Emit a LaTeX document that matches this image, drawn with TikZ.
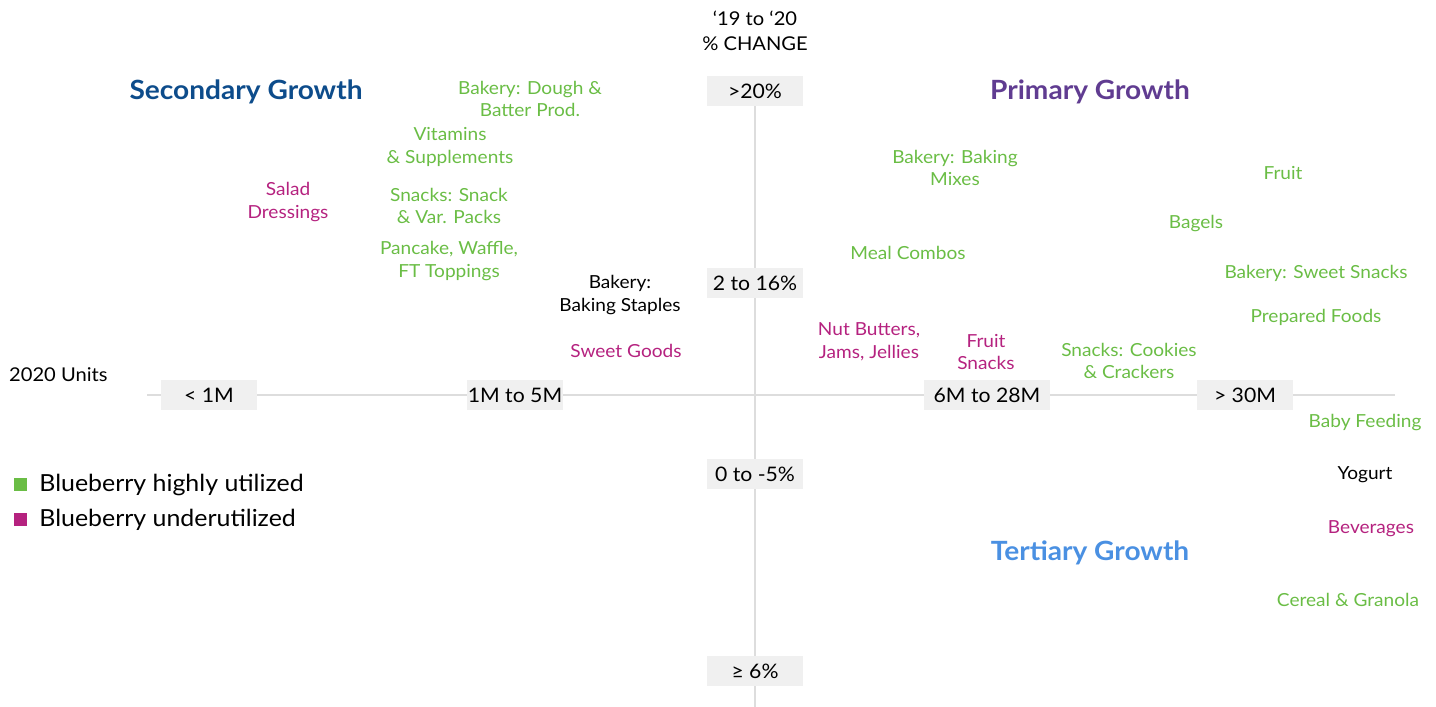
\documentclass[tikz,border=0pt]{standalone}
\usepackage{fontspec}
\setmainfont{Lato}[FakeStretch=1.06]
\usetikzlibrary{positioning}

\definecolor{bbgreen}{HTML}{6ABD45}
\definecolor{bbmagenta}{HTML}{B5227F}
\definecolor{darkblue}{HTML}{0D4C8B}
\definecolor{purple}{HTML}{603C91}
\definecolor{lightblue}{HTML}{4A90E2}
\definecolor{axisgray}{HTML}{DDDDDD}
\definecolor{boxgray}{HTML}{F0F0F0}

\tikzstyle{axis_box} = [rectangle, minimum width=96pt, minimum height=30pt, inner sep=0pt, fill=boxgray, text=black, font=\fontsize{20}{22}\selectfont]
\tikzstyle{axis_line} = [draw=axisgray, line width=2pt]
\tikzstyle{high_item} = [align=center, inner sep=0pt, text=bbgreen, font=\fontsize{18}{22.5}\selectfont]
\tikzstyle{low_item} = [align=center, inner sep=0pt, text=bbmagenta, font=\fontsize{18}{22.5}\selectfont]
\tikzstyle{plain_item} = [align=center, inner sep=0pt, text=black, font=\fontsize{18}{22.5}\selectfont]
\tikzstyle{quadrant} = [inner sep=0pt, font=\fontsize{26.5}{28}\selectfont\bfseries]
\tikzstyle{legend_key} = [rectangle, minimum size=13pt, inner sep=0pt]
\tikzstyle{legend_text} = [inner sep=0pt, anchor=west, font=\fontsize{23.5}{26}\selectfont]

\begin{document}
\begin{tikzpicture}[x=1pt, y=-1pt, node distance=35pt]
        \useasboundingbox (0,0) rectangle (1436,707);

        % axis titles
        \node (change_title) [align=center, inner sep=0pt, font=\fontsize{19}{25}\selectfont] at (755,31) {‘19 to ‘20\\\% CHANGE};
        \node (units_title) [inner sep=0pt, anchor=west, font=\fontsize{19}{22}\selectfont] at (9,375) {2020 Units};

        % vertical axis
        \node (pct_gt20) [axis_box] at (755,91) {>20\%};
        \node (pct_2to16) [axis_box] at (755,283) {2 to 16\%};
        \node (pct_0to5) [axis_box] at (755,474) {0 to -5\%};
        \node (pct_ge6) [axis_box] at (755,671) {≥ 6\%};
        \coordinate (pct_end) at (755,707);

        % horizontal axis
        \coordinate (units_start) at (147,395);
        \node (units_lt1) [axis_box] at (209,395) {< 1M};
        \node (units_1to5) [axis_box] at (515,395) {1M to 5M};
        \node (units_6to28) [axis_box, minimum width=126pt] at (987,395) {6M to 28M};
        \node (units_gt30) [axis_box] at (1245,395) {> 30M};
        \coordinate (units_end) at (1395,395);

        \draw [axis_line] (pct_gt20) -- (pct_2to16);
        \draw [axis_line] (pct_2to16) -- (pct_0to5);
        \draw [axis_line] (pct_0to5) -- (pct_ge6);
        \draw [axis_line] (pct_ge6) -- (pct_end);
        \draw [axis_line] (units_start) -- (units_lt1);
        \draw [axis_line] (units_lt1) -- (units_1to5);
        \draw [axis_line] (units_1to5) -- (units_6to28);
        \draw [axis_line] (units_6to28) -- (units_gt30);
        \draw [axis_line] (units_gt30) -- (units_end);

        % quadrants
        \node (secondary) [quadrant, text=darkblue] at (246,92) {Secondary Growth};
        \node (primary) [quadrant, text=purple] at (1090,92) {Primary Growth};
        \node (tertiary) [quadrant, text=lightblue] at (1090,553) {Tertiary Growth};

        % categories
        \node (dough) [high_item] at (530,99) {Bakery: Dough \&\\Batter Prod.};
        \node (vitamins) [high_item] at (450,147) {Vitamins\\\& Supplements};
        \node (salad) [low_item] at (288,202) {Salad\\Dressings};
        \node (snack_packs) [high_item] at (449,206) {Snacks: Snack\\\& Var. Packs};
        \node (pancake) [high_item] at (449,261) {Pancake, Waffle,\\FT Toppings};
        \node (staples) [plain_item] at (620,295) {Bakery:\\Baking Staples};
        \node (sweet_goods) [low_item] at (626,351) {Sweet Goods};
        \node (mixes) [high_item] at (955,168) {Bakery: Baking\\Mixes};
        \node (meal_combos) [high_item] at (908,253) {Meal Combos};
        \node (fruit) [high_item] at (1283,173) {Fruit};
        \node (bagels) [high_item] at (1196,224) {Bagels};
        \node (sweet_snacks) [high_item] at (1316,273) {Bakery: Sweet Snacks};
        \node (prepared) [high_item] at (1316,317) {Prepared Foods};
        \node (nut_butters) [low_item] at (869,342) {Nut Butters,\\Jams, Jellies};
        \node (fruit_snacks) [low_item] at (986,352) {Fruit\\Snacks};
        \node (cookies) [high_item] at (1129,361) {Snacks: Cookies\\\& Crackers};
        \node (baby) [high_item] at (1365,423) {Baby Feeding};
        \node (yogurt) [plain_item] at (1365,475) {Yogurt};
        \node (beverages) [low_item] at (1371,529) {Beverages};
        \node (cereal) [high_item] at (1348,600) {Cereal \& Granola};

        % legend
        \node (key_high) [legend_key, fill=bbgreen] at (20.5,484.5) {};
        \node (key_low) [legend_key, fill=bbmagenta, below of=key_high] {};
        \node (label_high) [legend_text, right=12pt of key_high] {Blueberry highly utilized};
        \node (label_low) [legend_text, right=12pt of key_low] {Blueberry underutilized};
    \end{tikzpicture}
\end{document}
